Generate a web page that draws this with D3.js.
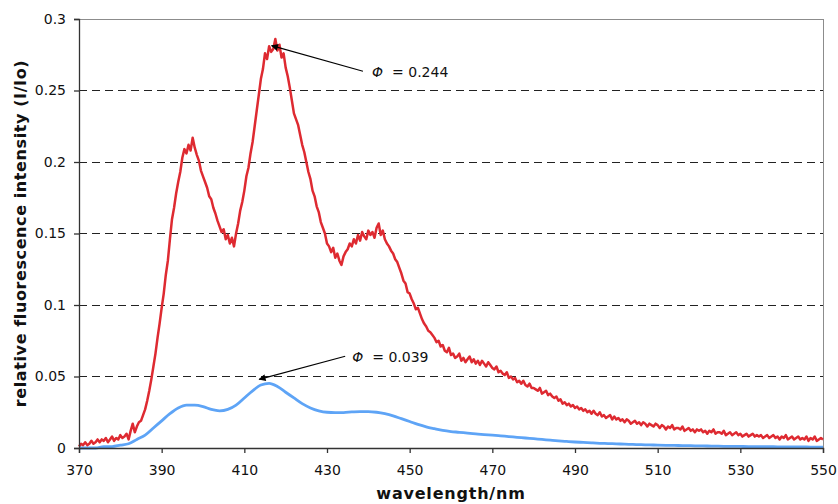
<!DOCTYPE html>
<html><head><meta charset="utf-8">
<script src="https://cdn.jsdelivr.net/npm/d3@7"></script>
<style>
body{margin:0;background:#fff;}
text{font-family:"DejaVu Sans",Verdana,sans-serif;}
</style></head>
<body><svg id="c" width="838" height="504"></svg>
<script>
// ---- data ----
const redStart = 370, redStep = 0.5;
const redValues = [
.001,.003,.002,.004,.002,.003,.005,.003,.004,.006,
.004,.006,.005,.007,.004,.006,.008,.005,.007,.006,
.009,.007,.008,.010,.006,.012,.017,.011,.015,.018,
.019,.023,.027,.033,.040,.048,.057,.066,.077,.087,
.098,.108,.121,.131,.146,.160,.168,.178,.186,.193,
.203,.209,.206,.212,.208,.217,.210,.205,.201,.194,
.190,.186,.182,.176,.174,.168,.164,.159,.155,.151,
.153,.146,.149,.143,.147,.141,.150,.157,.166,.172,
.180,.190,.196,.206,.214,.225,.236,.247,.258,.265,
.276,.272,.281,.277,.279,.286,.278,.282,.273,.276,
.266,.260,.252,.243,.234,.230,.226,.219,.212,.207,
.200,.193,.188,.180,.176,.169,.165,.158,.154,.150,
.143,.141,.137,.140,.133,.136,.131,.128,.134,.137,
.139,.143,.141,.146,.143,.149,.145,.151,.148,.146,
.152,.149,.151,.147,.154,.157,.149,.152,.146,.143,
.141,.138,.136,.132,.130,.126,.122,.117,.115,.109,
.108,.104,.101,.097,.098,.094,.090,.087,.085,.082,
.081,.079,.077,.074,.075,.071,.072,.068,.067,.070,
.065,.066,.063,.064,.066,.061,.063,.060,.062,.064,
.060,.062,.059,.061,.058,.061,.059,.057,.060,.058,
.056,.055,.057,.053,.054,.052,.051,.053,.049,.050,
.048,.049,.046,.047,.045,.047,.044,.043,.045,.042,
.042,.041,.040,.042,.038,.039,.040,.037,.038,.036,
.035,.036,.033,.034,.031,.032,.030,.031,.029,.030,
.028,.029,.027,.028,.026,.027,.025,.026,.024,.026,
.024,.023,.025,.022,.023,.021,.022,.023,.020,.022,
.020,.021,.019,.020,.018,.020,.019,.017,.018,.019,
.017,.018,.016,.018,.017,.015,.017,.016,.015,.017,
.016,.014,.016,.015,.013,.015,.014,.016,.013,.014,
.014,.013,.015,.012,.013,.014,.012,.013,.011,.013,
.012,.013,.011,.012,.010,.012,.011,.013,.010,.011,
.011,.010,.012,.009,.010,.011,.009,.010,.011,.009,
.010,.008,.009,.010,.008,.009,.010,.008,.009,.008,
.009,.007,.008,.009,.007,.008,.009,.007,.008,.006,
.008,.007,.009,.006,.007,.008,.006,.007,.008,.006,
.007,.006,.008,.005,.007,.006,.008,.005,.006,.007,
.006];
const blueStart = 370, blueStep = 2;
const blueValues = [
.000,.000,.000,.001,.001,.002,.003,.006,.009,.014,
.019,.024,.028,.030,.030,.029,.027,.026,.027,.030,
.035,.040,.044,.0452,.043,.039,.035,.031,.028,.026,
.025,.0248,.0248,.0252,.0255,.0255,.025,.024,.0225,.0205,
.0185,.0165,.0148,.0135,.0123,.0115,.011,.0104,.0099,.0094,
.009,.0085,.008,.0075,.007,.0065,.006,.0055,.005,.0046,
.0042,.0039,.0036,.0033,.0031,.0029,.0027,.0025,.0023,.0022,
.002,.0019,.0018,.0017,.0016,.0015,.0014,.0013,.0012,.0012,
.0011,.001,.001,.0009,.0009,.0008,.0008,.0007,.0007,.0006,
.0006];
const xTicks = [370,390,410,430,450,470,490,510,530,550];
const yTicks = [0,0.05,0.1,0.15,0.2,0.25,0.3];
const annotations = [
  {label:"0.244", from:[438.7,0.2635], to:[416.6,0.2814], text:[440.9,0.2597]},
  {label:"0.039", from:[434.4,0.0641], to:[413.6,0.0480], text:[436.1,0.0599]}
];

// ---- layout ----
const m = {l:79, t:19, r:15, b:56};
const W = 838 - m.l - m.r, H = 504 - m.t - m.b;
const svg = d3.select("#c");
const g = svg.append("g").attr("transform",`translate(${m.l},${m.t})`);
const x = d3.scaleLinear().domain([370,550]).range([0,W]);
const y = d3.scaleLinear().domain([0,0.3]).range([H,0]);

// grid
g.append("g").selectAll("line").data(yTicks.filter(v=>v>0 && v<0.3)).join("line")
  .attr("x1",0).attr("x2",W).attr("y1",d=>y(d)).attr("y2",d=>y(d))
  .attr("stroke","#222").attr("stroke-width",1).attr("stroke-dasharray","8,5")
  .attr("shape-rendering","crispEdges");
// border top/right
g.append("line").attr("x1",0).attr("x2",W).attr("y1",y(0.3)).attr("y2",y(0.3))
  .attr("stroke","#8c8c8c").attr("shape-rendering","crispEdges");
g.append("line").attr("x1",W).attr("x2",W).attr("y1",0).attr("y2",H)
  .attr("stroke","#8c8c8c").attr("shape-rendering","crispEdges");

// lines
const redData = redValues.map((v,i)=>[redStart+i*redStep, v]);
const blueData = blueValues.map((v,i)=>[blueStart+i*blueStep, v]);
g.append("path").datum(blueData).attr("fill","none").attr("stroke","#5ea4f6")
  .attr("stroke-width",2.8).attr("stroke-linejoin","round")
  .attr("d", d3.line().x(d=>x(d[0])).y(d=>y(d[1])).curve(d3.curveMonotoneX));
g.append("path").datum(redData).attr("fill","none").attr("stroke","#de2a31")
  .attr("stroke-width",2.5).attr("stroke-linejoin","round")
  .attr("d", d3.line().x(d=>x(d[0])).y(d=>y(d[1])));

// axes
const xa = g.append("g").attr("transform",`translate(0,${H})`)
  .call(d3.axisBottom(x).tickValues(xTicks).tickSize(5).tickPadding(12).tickFormat(d3.format("d")));
const ya = g.append("g")
  .call(d3.axisLeft(y).tickValues(yTicks).tickSize(5).tickPadding(8).tickFormat(d=>d===0?"0":String(d)));
[xa,ya].forEach(a=>{
  a.selectAll("path,line").attr("stroke","#333").attr("stroke-width",1.3);
  a.selectAll("text").attr("font-size",14).attr("fill","#111").attr("font-family","DejaVu Sans, Verdana, sans-serif");
});

// annotations
svg.append("defs").append("marker").attr("id","ah").attr("viewBox","0 0 10 10")
  .attr("refX",9).attr("refY",5).attr("markerWidth",9).attr("markerHeight",7)
  .attr("markerUnits","userSpaceOnUse").attr("orient","auto")
  .append("path").attr("d","M0,0L10,5L0,10z").attr("fill","#000");
annotations.forEach(a=>{
  g.append("line").attr("x1",x(a.from[0])).attr("y1",y(a.from[1]))
    .attr("x2",x(a.to[0])).attr("y2",y(a.to[1]))
    .attr("stroke","#000").attr("stroke-width",1.1).attr("marker-end","url(#ah)");
  const t = g.append("text").attr("x",x(a.text[0])).attr("y",y(a.text[1]))
    .attr("font-size",14).attr("fill","#111");
  t.append("tspan").attr("font-style","italic").text("Φ");
  t.append("tspan").attr("dx",9).text("= " + a.label);
});

// titles
svg.append("text").attr("x",m.l+W/2).attr("y",499).attr("text-anchor","middle")
  .attr("font-size",16).attr("letter-spacing",0.8).attr("font-weight","bold").attr("fill","#111").text("wavelength/nm");
svg.append("text").attr("transform",`translate(26,${m.t+H/2}) rotate(-90)`)
  .attr("text-anchor","middle").attr("font-size",16).attr("letter-spacing",0.6).attr("font-weight","bold").attr("fill","#111")
  .text("relative fluorescence intensity (I/Io)");
</script></body></html>
